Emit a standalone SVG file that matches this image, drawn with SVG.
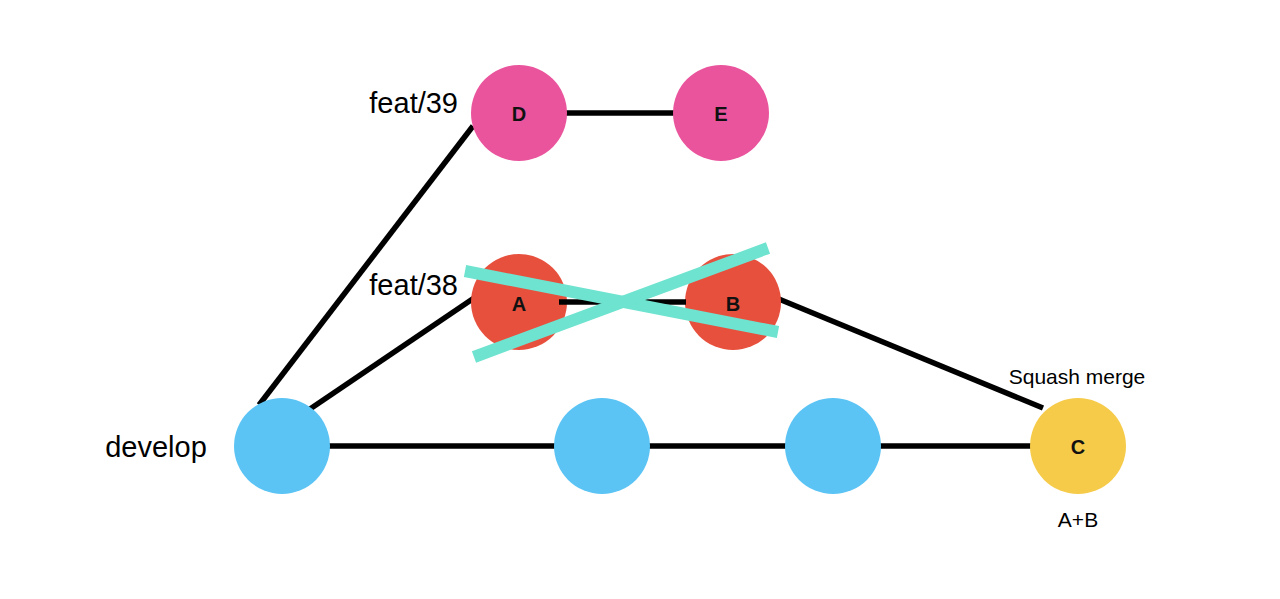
<svg xmlns="http://www.w3.org/2000/svg" width="1280" height="599" viewBox="0 0 1280 599">
<style>
.edge{stroke:#000;stroke-width:5.5;fill:none}
.cross{stroke:#6EE3CF;stroke-width:12}
.lbl{font-family:"Liberation Sans",Arial,sans-serif;font-size:29px;fill:#000}
.sm{font-family:"Liberation Sans",Arial,sans-serif;font-size:21px;fill:#000;text-anchor:middle}
.nl{font-family:"Liberation Sans",Arial,sans-serif;font-size:20px;font-weight:bold;fill:#111;text-anchor:middle}
.pink{fill:#EA549D}.red{fill:#E8503E}.blue{fill:#5BC4F5}.yellow{fill:#F6CB4A}
</style>
<rect width="1280" height="599" fill="#fff"/>
<g id="connectors">
<line class="edge" x1="328" y1="446" x2="1032" y2="446"/>
<line class="edge" x1="259" y1="405" x2="473" y2="126"/>
<line class="edge" x1="310" y1="409" x2="474" y2="298"/>
<line class="edge" x1="774" y1="297" x2="1043" y2="408"/>
<line class="edge" x1="565" y1="113" x2="677" y2="113"/>
</g>
<g id="node-D"><circle class="pink" cx="519" cy="113" r="48"/><text class="nl" x="519" y="121">D</text></g>
<g id="node-E"><circle class="pink" cx="721" cy="113" r="48"/><text class="nl" x="721" y="121">E</text></g>
<g id="node-A"><circle class="red" cx="519" cy="302" r="48"/><text class="nl" x="519" y="311">A</text></g>
<g id="node-B"><circle class="red" cx="733" cy="302" r="48"/><text class="nl" x="733" y="311">B</text></g>
<g id="ab-edge"><line class="edge" x1="559" y1="302" x2="686" y2="302"/></g>
<g id="dev1"><circle class="blue" cx="282" cy="446" r="48"/></g>
<g id="dev2"><circle class="blue" cx="602" cy="446" r="48"/></g>
<g id="dev3"><circle class="blue" cx="833" cy="446" r="48"/></g>
<g id="node-C"><circle class="yellow" cx="1078" cy="446" r="48"/><text class="nl" x="1078" y="454" font-weight="normal">C</text></g>
<g id="cross">
<line class="cross" x1="465" y1="271" x2="778" y2="332"/>
<line class="cross" x1="474" y1="357" x2="768" y2="248"/>
</g>
<g id="labels">
<text class="lbl" x="458" y="113" text-anchor="end">feat/39</text>
<text class="lbl" x="458" y="295" text-anchor="end">feat/38</text>
<text class="lbl" x="156" y="457" text-anchor="middle">develop</text>
<text class="sm" x="1077" y="384">Squash merge</text>
<text class="sm" x="1078" y="527">A+B</text>
</g>
</svg>
